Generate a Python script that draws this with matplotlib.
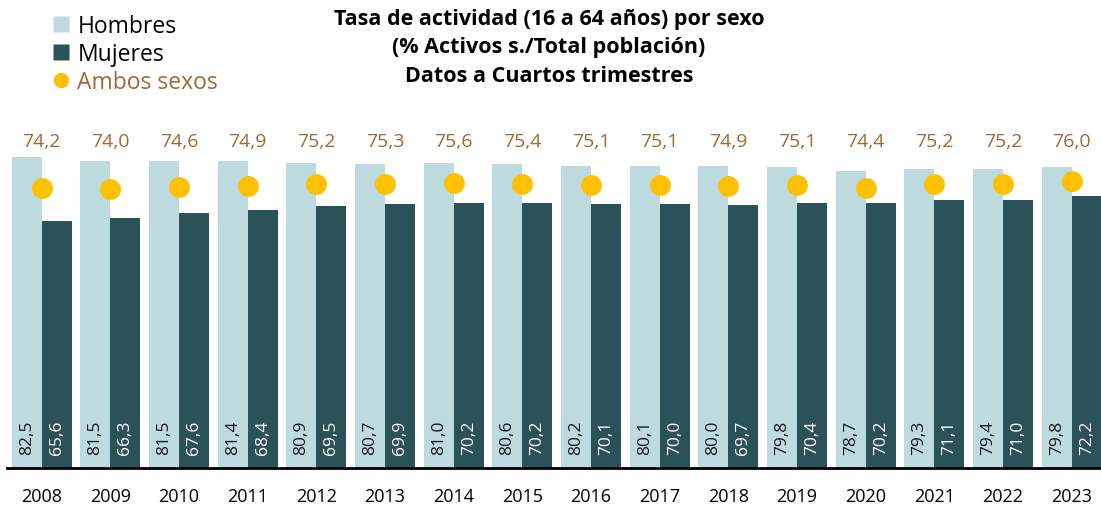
import numpy as np
import matplotlib.pyplot as plt
from matplotlib.lines import Line2D

plt.rcParams['font.family'] = ['Open Sans', 'DejaVu Sans']

years = ['2008', '2009', '2010', '2011', '2012', '2013', '2014', '2015',
         '2016', '2017', '2018', '2019', '2020', '2021', '2022', '2023']
hombres = [82.5, 81.5, 81.5, 81.4, 80.9, 80.7, 81.0, 80.6,
           80.2, 80.1, 80.0, 79.8, 78.7, 79.3, 79.4, 79.8]
mujeres = [65.6, 66.3, 67.6, 68.4, 69.5, 69.9, 70.2, 70.2,
           70.1, 70.0, 69.7, 70.4, 70.2, 71.1, 71.0, 72.2]
ambos = [74.2, 74.0, 74.6, 74.9, 75.2, 75.3, 75.6, 75.4,
         75.1, 75.1, 74.9, 75.1, 74.4, 75.2, 75.2, 76.0]

c_h = '#BDDADF'
c_m = '#2B5159'
c_a = '#FFC000'
c_txt = '#9C6A3A'


def fmt(v):
    return f'{v:.1f}'.replace('.', ',')


fig = plt.figure(figsize=(11.01, 5.06), dpi=100)
W, H = 1101, 506
# axes placed in pixels: left 7, bottom line at y=469 px from top
ax = fig.add_axes([7.4 / W, (H - 469) / H, 1098.7 / W, 377 / H])

x = np.arange(len(years))
w = 0.437
ax.bar(x - w / 2, hombres, w, color=c_h, edgecolor='none')
ax.bar(x + w / 2, mujeres, w, color=c_m, edgecolor='none')
ax.plot(x, ambos, 'o', color=c_a, ms=15, mec='none', zorder=3)

for i in range(len(years)):
    ax.text(x[i] - w / 2, 3.7, fmt(hombres[i]), rotation=90, ha='center', va='bottom',
            fontsize=12.5, color='#1a1a1a')
    ax.text(x[i] + w / 2, 3.7, fmt(mujeres[i]), rotation=90, ha='center', va='bottom',
            fontsize=12.5, color='white')
    ax.text(x[i], 86.7, fmt(ambos[i]), ha='center', va='center', fontsize=14, color=c_txt)

ax.set_xlim(-0.5, len(years) - 0.5)
ax.set_ylim(0, 100)
for s in ['top', 'right', 'left']:
    ax.spines[s].set_visible(False)
ax.spines['bottom'].set_linewidth(2)
ax.spines['bottom'].set_color('black')
ax.set_yticks([])
ax.set_xticks(x)
ax.set_xticklabels(years, fontsize=13)
ax.tick_params(axis='x', length=0, pad=14)

handles = [Line2D([], [], ls='none', marker='s', ms=11, color=c_h, mec='none'),
           Line2D([], [], ls='none', marker='s', ms=11, color=c_m, mec='none'),
           Line2D([], [], ls='none', marker='o', ms=11, color=c_a, mec='none')]
leg = fig.legend(handles, ['Hombres', 'Mujeres', 'Ambos sexos'], loc='upper left',
                 bbox_to_anchor=(43 / W, 1 - 6 / H), frameon=False, fontsize=16.5,
                 handlelength=0.8, handletextpad=0.3, labelspacing=0.18, borderaxespad=0)
leg.get_texts()[2].set_color(c_txt)

fig.text(549 / W, 1 - 19 / H, 'Tasa de actividad (16 a 64 años) por sexo',
         ha='center', va='center', fontsize=15.5, fontweight='bold')
fig.text(549 / W, 1 - 48 / H, '(% Activos s./Total población)',
         ha='center', va='center', fontsize=15.5, fontweight='bold')
fig.text(549 / W, 1 - 77 / H, 'Datos a Cuartos trimestres',
         ha='center', va='center', fontsize=15.5, fontweight='bold')

fig.savefig('out.png', dpi=100)
